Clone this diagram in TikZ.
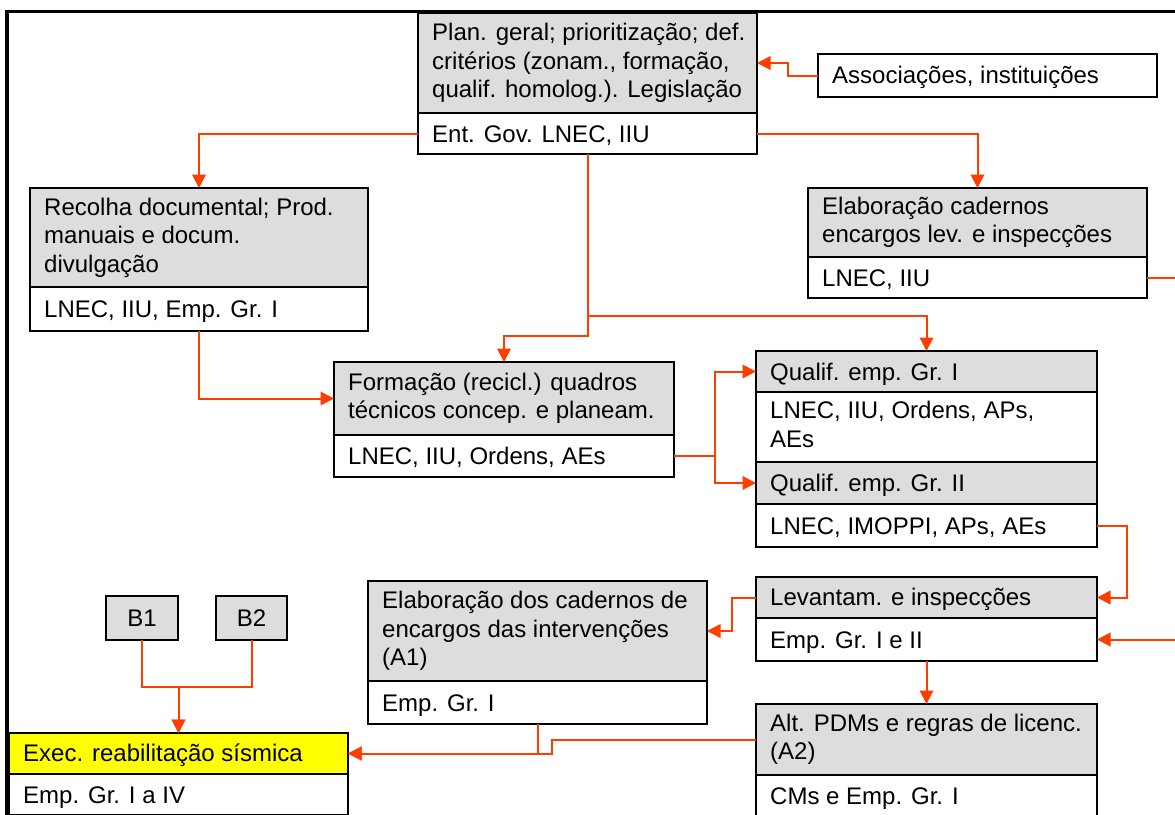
\documentclass[tikz,border=0pt]{standalone}
\usepackage{fontspec}
\setmainfont{Liberation Sans}
\usetikzlibrary{arrows.meta}

\definecolor{flow}{RGB}{255,61,0}
\definecolor{hdrgray}{RGB}{221,221,221}
\definecolor{hilite}{RGB}{255,255,0}

% strut that centres the capitals of a line in its cell
\newcommand{\tstrut}{\rule[-5pt]{0pt}{27pt}}

% \flowcell{name}{x}{y top}{width}{height}{fill}{text}
\newcommand{\flowcell}[7]{%
  \node[cell, fill=#6, minimum width=#4pt, minimum height=#5pt] (#1) at (#2,#3) {};
  \node[celltext] (#1-t) at ([xshift=14pt]#1.west) {#7};
}

\begin{document}
\begin{tikzpicture}[x=1pt, y=-1pt,
  cell/.style={draw=black, line width=1.8pt, anchor=north west, inner sep=0pt, outer sep=0pt},
  celltext/.style={anchor=west, align=left, inner sep=0pt,
    font=\fontsize{24}{28.5}\selectfont,
    execute at begin node=\tstrut, execute at end node=\tstrut},
  tag/.style={draw=black, line width=1.8pt, fill=hdrgray, anchor=north west,
    inner sep=0pt, outer sep=0pt, font=\fontsize{24}{28.5}\selectfont},
  conn/.style={draw=flow, line width=2pt, -{Triangle[length=13.5pt, width=13.5pt]}}]

\useasboundingbox (0,0) rectangle (1175,814);
\clip (0,0) rectangle (1175,814);
\fill[white] (0,0) rectangle (1175,814);

% outer frame
\draw[line width=3.5pt] (7,840) -- (7,11.7) -- (1200,11.7);

% planning
\flowcell{P}{418}{13}{339}{100}{hdrgray}{Plan. geral; prioritização; def.\\critérios (zonam., formação,\\qualif. homolog.). Legislação}
\flowcell{Pb}{418}{113}{339}{41}{white}{Ent. Gov. LNEC, IIU}

\flowcell{A}{818}{54}{339}{43}{white}{Associações, instituições}

\flowcell{R}{30}{188}{338}{99}{hdrgray}{Recolha documental; Prod.\\manuais e docum.\\divulgação}
\flowcell{Rb}{30}{287}{338}{44}{white}{LNEC, IIU, Emp. Gr. I}

\flowcell{E}{808}{188}{339}{69}{hdrgray}{Elaboração cadernos\\encargos lev. e inspecções}
\flowcell{Eb}{808}{257}{339}{41}{white}{LNEC, IIU}

\flowcell{F}{334}{362}{340}{73}{hdrgray}{Formação (recicl.) quadros\\técnicos concep. e planeam.}
\flowcell{Fb}{334}{435}{340}{42}{white}{LNEC, IIU, Ordens, AEs}

\flowcell{Q1}{756}{351}{341}{41}{hdrgray}{Qualif. emp. Gr. I}
\flowcell{Q1b}{756}{392}{341}{70}{white}{LNEC, IIU, Ordens, APs,\\AEs}
\flowcell{Q2}{756}{462}{341}{42}{hdrgray}{Qualif. emp. Gr. II}
\flowcell{Q2b}{756}{504}{341}{43}{white}{LNEC, IMOPPI, APs, AEs}

\flowcell{L}{756}{577}{341}{41}{hdrgray}{Levantam. e inspecções}
\flowcell{Lb}{756}{618}{341}{43}{white}{Emp. Gr. I e II}

\flowcell{A1}{368}{581}{339}{100}{hdrgray}{Elaboração dos cadernos de\\encargos das intervenções\\(A1)}
\flowcell{A1b}{368}{681}{339}{43}{white}{Emp. Gr. I}

\flowcell{A2}{756}{704}{341}{71}{hdrgray}{Alt. PDMs e regras de licenc.\\(A2)}
\flowcell{A2b}{756}{775}{341}{41}{white}{CMs e Emp. Gr. I}

\flowcell{X}{9}{733}{339}{41}{hilite}{Exec. reabilitação sísmica}
\flowcell{Xb}{9}{774}{339}{41}{white}{Emp. Gr. I a IV}

\node[tag, minimum width=72pt, minimum height=44pt] (B1) at (106,596) {B1};
\node[tag, minimum width=71pt, minimum height=44pt] (B2) at (216,596) {B2};

% connectors
\draw[conn] (A.west) -- (A.west -| 788,0) |- (P.east);
\draw[conn] (Pb.west) -| (R.north);
\draw[conn] (Pb.east) -| (E.north);
\draw[conn] (Pb.south) -- (Pb.south |- 0,336) -| (F.north);
\draw[conn] (Pb.south) -- (Pb.south |- 0,316) -| (Q1.north);
\draw[conn] (Rb.south) |- (F.west);
\draw[conn] (Fb.east) -- (Fb.east -| 715,0) |- (Q1.west);
\draw[conn] (Fb.east) -- (Fb.east -| 715,0) |- (Q2.west);
\draw[conn] (Q2b.east) -- (Q2b.east -| 1127,0) |- (L.east);
\draw[conn] (Eb.east) -- (Eb.east -| 1200,0) |- (Lb.east);
\draw[conn] (L.west) -- (L.west -| 732,0) |- (A1.east);
\draw[conn] (Lb.south) -- (A2.north);
\draw[conn] (A1b.south) |- (X.east);
\draw[conn] (A2.west) -- (A2.west -| 552,0) |- (X.east);
\draw[conn] (B1.south) -- (B1.south |- 0,687) -| (X.north);
\draw[conn] (B2.south) -- (B2.south |- 0,687) -| (X.north);
\end{tikzpicture}
\end{document}
